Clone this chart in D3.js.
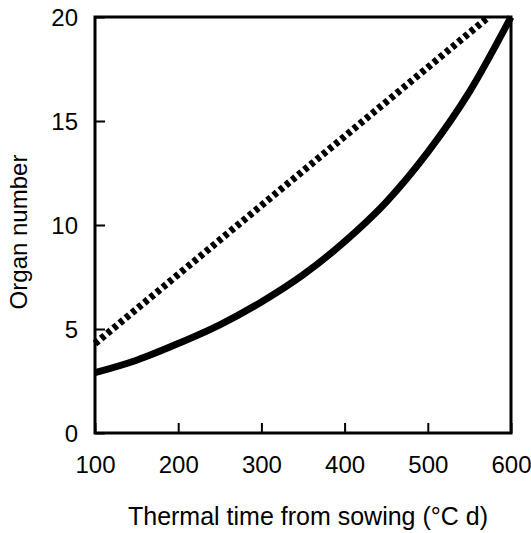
<!DOCTYPE html>
<html>
<head>
<meta charset="utf-8">
<script src="https://cdn.jsdelivr.net/npm/d3@7"></script>
<style>
  body { margin: 0; background: #fff; }
  text { font-family: "Liberation Sans", Arial, sans-serif; fill: #000; }
</style>
</head>
<body>
<div id="chart"></div>
<script>
// values
var thermalTime = [100, 150, 200, 250, 300, 350, 400, 450, 500, 550, 600];
var organSolid = [2.9, 3.5, 4.3, 5.2, 6.3, 7.6, 9.2, 11.1, 13.5, 16.4, 20.0];
var dashedTime = [100, 573];
var organDashed = [4.3, 20.0];
var xTicks = [100, 200, 300, 400, 500, 600];
var yTicks = [0, 5, 10, 15, 20];

var margin = {top: 17, right: 20, bottom: 100, left: 95};
var width = 531 - margin.left - margin.right,
    height = 533 - margin.top - margin.bottom;

var svg = d3.select("#chart").append("svg")
    .attr("width", 531)
    .attr("height", 533)
  .append("g")
    .attr("transform", "translate(" + margin.left + "," + margin.top + ")");

var xScale = d3.scaleLinear().domain([100, 600]).range([0, width]);
var yScale = d3.scaleLinear().domain([0, 20]).range([height, 0]);

// ticks point inward
var xAxis = d3.axisBottom(xScale).tickValues(xTicks).tickSize(-10);
var yAxis = d3.axisLeft(yScale).tickValues(yTicks).tickSize(-10).tickPadding(17);

svg.append("g")
    .attr("class", "x axis")
    .attr("transform", "translate(0," + height + ")")
    .call(xAxis);

svg.append("g")
    .attr("class", "y axis")
    .call(yAxis);

svg.selectAll(".axis .domain").remove();
svg.selectAll(".axis line").attr("stroke", "#000").attr("stroke-width", 2);
svg.selectAll(".axis text")
    .style("font-size", "24px")
    .style("font-family", "'Liberation Sans', Arial, sans-serif")
    .attr("fill", "#000");
svg.selectAll(".y.axis text").attr("dy", "0.36em");
svg.selectAll(".x.axis text").attr("y", 40).attr("dy", 0);

// frame
svg.append("rect")
    .attr("x", 0)
    .attr("y", 0)
    .attr("width", width)
    .attr("height", height)
    .attr("fill", "none")
    .attr("stroke", "#000")
    .attr("stroke-width", 3);

var solidLine = d3.line()
    .x(function(d, i) { return xScale(thermalTime[i]); })
    .y(function(d) { return yScale(d); })
    .curve(d3.curveMonotoneX);

svg.append("path")
    .datum(organSolid)
    .attr("d", solidLine)
    .attr("fill", "none")
    .attr("stroke", "#000")
    .attr("stroke-width", 7);

var dashLine = d3.line()
    .x(function(d, i) { return xScale(dashedTime[i]); })
    .y(function(d) { return yScale(d); });

svg.append("path")
    .datum(organDashed)
    .attr("d", dashLine)
    .attr("fill", "none")
    .attr("stroke", "#000")
    .attr("stroke-width", 7)
    .attr("stroke-dasharray", "4.5,3.5");

// axis titles
svg.append("text")
    .attr("x", width / 2 + 5)
    .attr("y", height + 92)
    .attr("text-anchor", "middle")
    .style("font-size", "25px")
    .text("Thermal time from sowing (\u00B0C d)");

svg.append("text")
    .attr("transform", "translate(" + (27 - margin.left) + "," + (215) + ") rotate(-90)")
    .attr("text-anchor", "middle")
    .style("font-size", "24px")
    .text("Organ number");
</script>
</body>
</html>
